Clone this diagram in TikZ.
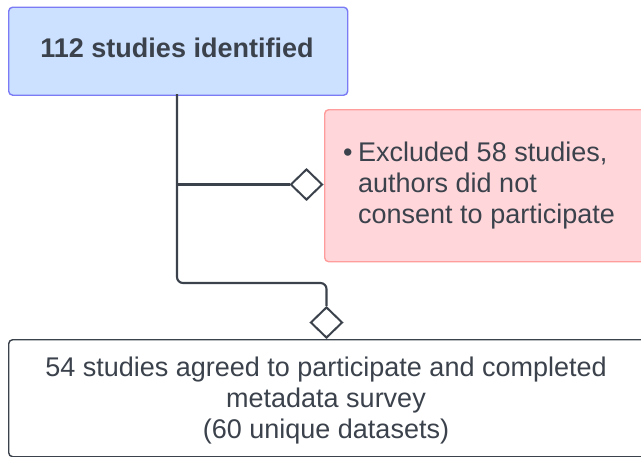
\documentclass[tikz,border=0pt]{standalone}
\usepackage{fontspec}
\setmainfont{Liberation Sans}
\usetikzlibrary{shapes.geometric}
\definecolor{ink}{HTML}{3B424C}
\definecolor{bluefill}{HTML}{CCE0FF}
\definecolor{blueedge}{HTML}{7B7BF5}
\definecolor{redfill}{HTML}{FFD7DA}
\definecolor{rededge}{HTML}{FF9C9C}
\tikzset{
  box/.style={draw, line width=1.4pt, rounded corners=4pt, inner sep=0pt, anchor=north west},
  link/.style={draw=ink, line width=2.1pt, rounded corners=6pt},
  gem/.style={diamond, draw=ink, fill=white, line width=2pt, minimum width=32pt, minimum height=31pt, inner sep=0pt, aspect=1},
  txt/.style={text=ink, inner sep=0pt, font=\fontsize{27}{31}\selectfont}
}
\begin{document}
\begin{tikzpicture}[x=1pt,y=-1pt]
\useasboundingbox (0,0) rectangle (641,456);
\begin{scope}
\clip (0,0) rectangle (641,456);
% boxes
\node[box, draw=blueedge, fill=bluefill, minimum width=339pt, minimum height=88pt] (start) at (8,6.5) {};
\node[txt, font=\fontsize{27}{31}\selectfont\bfseries] (starttxt) at (177,48) {112 studies identified};
\node[box, draw=rededge, fill=redfill, minimum width=340pt, minimum height=152pt] (excl) at (324,109) {};
\node[txt, anchor=west, align=left] (excltxt) at (343,186) {\makebox[15pt][l]{\textbullet}Excluded 58 studies,\\\hspace{15pt}authors did not\\\hspace{15pt}consent to participate};
\node[box, draw=ink, fill=white, minimum width=660pt, minimum height=117pt] (final) at (8,339) {};
\node[txt, align=center] (finaltxt) at (326,401) {54 studies agreed to participate and completed\\metadata survey\\(60 unique datasets)};
% connectors
\node[gem] (d1) at (306.5,184.5) {};
\node[gem] (d2) at (326.5,322.5) {};
\coordinate (top) at (177,94);
\coordinate (bend) at (177,283);
\coordinate (branch) at (177,184.5);
\draw[link] (top) -- (bend) -| (d2.north);
\draw[link, rounded corners=0pt] (branch) -- (d1.west);
\end{scope}
\end{tikzpicture}
\end{document}
